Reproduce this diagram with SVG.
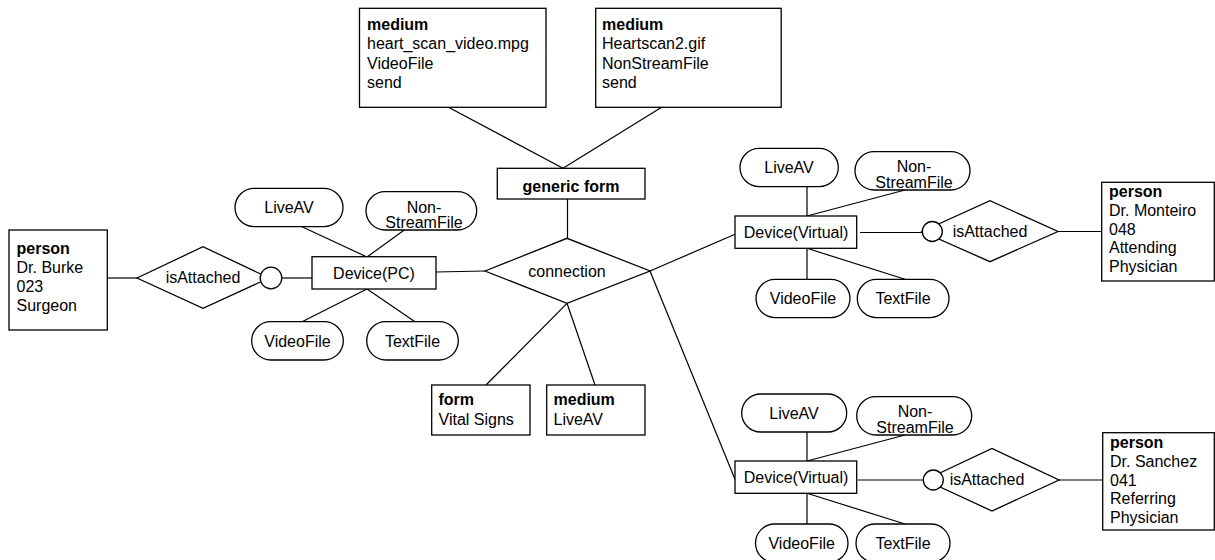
<svg xmlns="http://www.w3.org/2000/svg" width="1215" height="560" viewBox="0 0 1215 560">
<style>
.box{fill:#fff;stroke:#000;stroke-width:1.3}
.ln{stroke:#000;stroke-width:1.2;fill:none}
text{font-family:"Liberation Sans",Arial,sans-serif;font-size:16px;fill:#000}
.b{font-weight:bold}
.m{text-anchor:middle}
</style>
<rect width="1215" height="560" fill="#fff"/>
<g id="connectors">
<line class="ln" x1="105" y1="278" x2="137" y2="278"/>
<line class="ln" x1="282" y1="278" x2="312" y2="278"/>
<line class="ln" x1="367" y1="257" x2="302" y2="226.7"/>
<line class="ln" x1="367" y1="257" x2="405" y2="229.5"/>
<line class="ln" x1="367" y1="289" x2="302" y2="321.7"/>
<line class="ln" x1="367" y1="289" x2="415" y2="321.7"/>
<line class="ln" x1="436" y1="272" x2="485" y2="271"/>
<line class="ln" x1="448" y1="107" x2="563" y2="168.3"/>
<line class="ln" x1="662" y1="107" x2="563" y2="168.3"/>
<line class="ln" x1="567.5" y1="199" x2="567.5" y2="238.3"/>
<line class="ln" x1="567" y1="303.3" x2="486" y2="385"/>
<line class="ln" x1="567" y1="303.3" x2="595" y2="385"/>
<line class="ln" x1="650" y1="271" x2="735" y2="234.3"/>
<line class="ln" x1="650" y1="271" x2="735" y2="479.3"/>
<line class="ln" x1="807" y1="186.7" x2="807" y2="216"/>
<line class="ln" x1="807" y1="216" x2="905" y2="190"/>
<line class="ln" x1="807" y1="248.3" x2="807" y2="279.3"/>
<line class="ln" x1="807" y1="248.3" x2="905" y2="279.3"/>
<line class="ln" x1="860" y1="232.5" x2="922" y2="232.5"/>
<line class="ln" x1="1058" y1="231.5" x2="1101.7" y2="231.5"/>
<line class="ln" x1="807" y1="432" x2="807" y2="461"/>
<line class="ln" x1="807" y1="461" x2="905" y2="435"/>
<line class="ln" x1="807" y1="493.3" x2="807" y2="524"/>
<line class="ln" x1="807" y1="493.3" x2="905" y2="524"/>
<line class="ln" x1="858" y1="480" x2="923" y2="480"/>
<line class="ln" x1="1059" y1="480" x2="1102.7" y2="480"/>
</g>
<g id="person-burke">
<rect class="box" x="9" y="230" width="98.3" height="100"/>
<text x="16.5" y="254.3" class="b">person</text>
<text x="16.5" y="273">Dr. Burke</text>
<text x="16.5" y="292">023</text>
<text x="16.5" y="311">Surgeon</text>
</g>
<g id="isattached-left">
<polygon class="box" points="137,278 203,246.7 269,278 203,308.3"/>
<text x="203" y="283" class="m">isAttached</text>
<circle class="box" cx="271" cy="278" r="10.8"/>
</g>
<g id="device-pc">
<rect class="box" x="312" y="256.7" width="124" height="32.3"/>
<text x="374" y="278.5" class="m">Device(PC)</text>
</g>
<g id="pc-liveav">
<rect class="box" x="235" y="188.3" width="108" height="38.4" rx="19.2"/>
<text x="289" y="213.2" class="m">LiveAV</text>
</g>
<g id="pc-nonstream">
<rect class="box" x="366" y="191.7" width="110.7" height="38.3" rx="19.15"/>
<text x="424" y="213" class="m">Non-</text>
<text x="424" y="228.3" class="m">StreamFile</text>
</g>
<g id="pc-videofile">
<rect class="box" x="251.7" y="321.7" width="91.6" height="38.3" rx="19.15"/>
<text x="297.5" y="346.7" class="m">VideoFile</text>
</g>
<g id="pc-textfile">
<rect class="box" x="366.7" y="321.7" width="91.6" height="38.3" rx="19.15"/>
<text x="412.5" y="346.7" class="m">TextFile</text>
</g>
<g id="medium-video">
<rect class="box" x="359.5" y="8.3" width="186.5" height="99"/>
<text x="367" y="29.5" class="b">medium</text>
<text x="367" y="49">heart_scan_video.mpg</text>
<text x="367" y="68.5">VideoFile</text>
<text x="367" y="88">send</text>
</g>
<g id="medium-gif">
<rect class="box" x="595.7" y="8.3" width="185.5" height="99"/>
<text x="602" y="29.5" class="b">medium</text>
<text x="602" y="49">Heartscan2.gif</text>
<text x="602" y="68.5">NonStreamFile</text>
<text x="602" y="88">send</text>
</g>
<g id="generic-form">
<rect class="box" x="497.3" y="168.3" width="147.7" height="30.7"/>
<text x="571" y="192" class="m b">generic form</text>
</g>
<g id="connection">
<polygon class="box" points="485,271 567,238.3 650,271 567,303.3"/>
<text x="567" y="276.5" class="m">connection</text>
</g>
<g id="form-vital">
<rect class="box" x="431.7" y="385" width="98.3" height="50"/>
<text x="438.5" y="405" class="b">form</text>
<text x="438.5" y="425">Vital Signs</text>
</g>
<g id="medium-liveav">
<rect class="box" x="546.7" y="385" width="98.3" height="50"/>
<text x="553.5" y="405" class="b">medium</text>
<text x="553.5" y="425">LiveAV</text>
</g>
<g id="device-virtual-top">
<rect class="box" x="735" y="216" width="121.7" height="32.3"/>
<text x="796" y="237.8" class="m">Device(Virtual)</text>
</g>
<g id="vt-liveav">
<rect class="box" x="740" y="148.3" width="98.3" height="38.4" rx="19.2"/>
<text x="789" y="173.2" class="m">LiveAV</text>
</g>
<g id="vt-nonstream">
<rect class="box" x="855" y="151.7" width="115" height="38.3" rx="19.15"/>
<text x="914" y="172" class="m">Non-</text>
<text x="914" y="188" class="m">StreamFile</text>
</g>
<g id="vt-videofile">
<rect class="box" x="756" y="279.3" width="94" height="38.4" rx="19.2"/>
<text x="803" y="304.3" class="m">VideoFile</text>
</g>
<g id="vt-textfile">
<rect class="box" x="857.3" y="279.3" width="91.7" height="38.4" rx="19.2"/>
<text x="903" y="304.3" class="m">TextFile</text>
</g>
<g id="isattached-top">
<polygon class="box" points="922,231.5 990,200.7 1058,231.5 990,261.7"/>
<text x="990" y="236.5" class="m">isAttached</text>
<circle class="box" cx="932.3" cy="231.5" r="10"/>
</g>
<g id="person-monteiro">
<rect class="box" x="1101.7" y="182.3" width="112.6" height="98.7"/>
<text x="1109" y="196.7" class="b">person</text>
<text x="1109" y="215.7">Dr. Monteiro</text>
<text x="1109" y="234.5">048</text>
<text x="1109" y="253.3">Attending</text>
<text x="1109" y="272">Physician</text>
</g>
<g id="device-virtual-bottom">
<rect class="box" x="735" y="461" width="121.7" height="32.3"/>
<text x="796" y="483" class="m">Device(Virtual)</text>
</g>
<g id="vb-liveav">
<rect class="box" x="741.7" y="394" width="105" height="38" rx="19"/>
<text x="794" y="418.7" class="m">LiveAV</text>
</g>
<g id="vb-nonstream">
<rect class="box" x="856.7" y="396.7" width="115" height="38.3" rx="19.15"/>
<text x="915" y="417" class="m">Non-</text>
<text x="915" y="433" class="m">StreamFile</text>
</g>
<g id="vb-videofile">
<rect class="box" x="755.5" y="524" width="92.5" height="38.4" rx="19.2"/>
<text x="801.7" y="549" class="m">VideoFile</text>
</g>
<g id="vb-textfile">
<rect class="box" x="856" y="524" width="94" height="38.4" rx="19.2"/>
<text x="903" y="549" class="m">TextFile</text>
</g>
<g id="isattached-bottom">
<polygon class="box" points="925,480 992,448.5 1059,480 992,511"/>
<text x="987" y="485" class="m">isAttached</text>
<circle class="box" cx="933.3" cy="480" r="10"/>
</g>
<g id="person-sanchez">
<rect class="box" x="1102.7" y="432.7" width="111.6" height="97.3"/>
<text x="1110" y="448" class="b">person</text>
<text x="1110" y="466.7">Dr. Sanchez</text>
<text x="1110" y="485.5">041</text>
<text x="1110" y="504.2">Referring</text>
<text x="1110" y="523">Physician</text>
</g>
</svg>
